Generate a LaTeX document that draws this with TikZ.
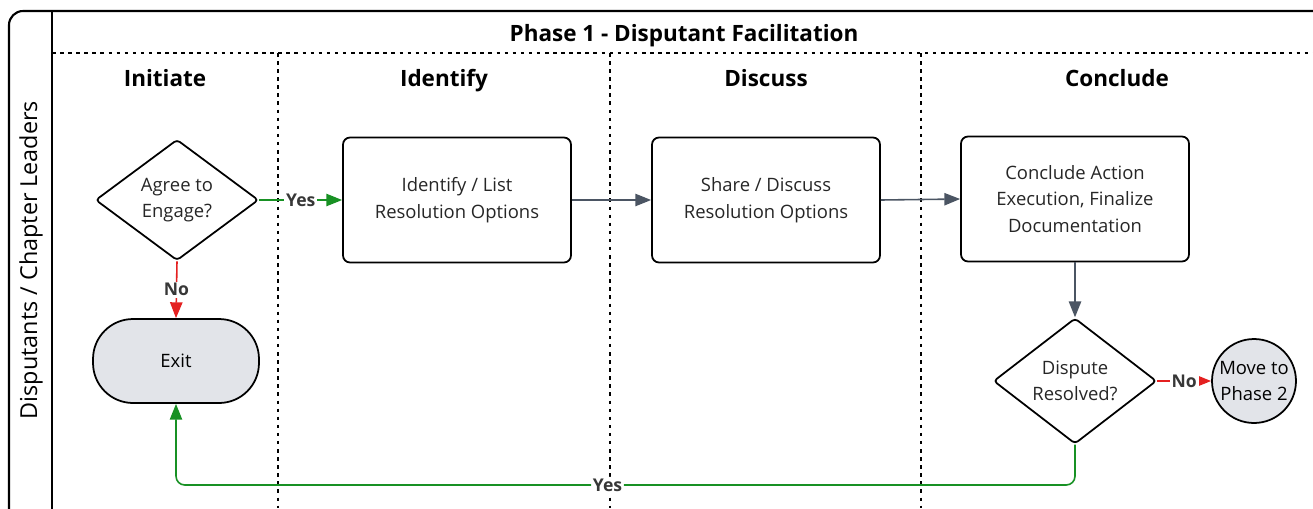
\documentclass[tikz,border=0pt]{standalone}
\usepackage{fontspec}
\setmainfont{Open Sans}
\usetikzlibrary{shapes.geometric,arrows.meta}
\definecolor{yesgreen}{RGB}{24,145,36}
\definecolor{nored}{RGB}{228,32,32}
\definecolor{flowgray}{RGB}{75,85,99}
\definecolor{termfill}{RGB}{226,228,233}
\definecolor{tagtext}{RGB}{55,55,55}
\tikzset{
  frame/.style={line width=1.2pt},
  divider/.style={line width=1pt,dash pattern=on 2pt off 2.6pt},
  head/.style={anchor=base,font=\bfseries\fontsize{12.8}{15}\selectfont},
  stepbox/.style={draw,line width=1pt,rounded corners=4pt,minimum width=4.56cm,minimum height=2.5cm,align=center,text=black!85,font=\fontsize{10.5}{15.2}\selectfont},
  decision/.style={diamond,draw,line width=1pt,rounded corners=2pt,minimum width=3.26cm,minimum height=2.42cm,inner sep=0pt,align=center,text=black!85,font=\fontsize{10.5}{15.2}\selectfont},
  terminal/.style={draw,line width=1pt,fill=termfill,rounded corners=0.8cm,minimum width=3.32cm,minimum height=1.68cm,align=center,font=\fontsize{10.5}{15.2}\selectfont},
  phasecircle/.style={circle,draw,line width=1pt,fill=termfill,minimum size=1.68cm,inner sep=0pt,align=center,font=\fontsize{10.5}{15.2}\selectfont},
  flow/.style={line width=0.9pt,-{Triangle[length=9pt,width=7pt]}},
  tag/.style={font=\bfseries\fontsize{10}{12}\selectfont,text=tagtext,fill=white,inner sep=1pt}
}
\begin{document}
\begin{tikzpicture}[x=0.02cm,y=-0.02cm]
\clip (0,0) rectangle (1313,508);
\draw[frame,rounded corners=8pt] (9,540) -- (9,11) -- (1340,11);
\draw[frame] (52,11) -- (52,540);
\draw[divider] (52,53) -- (1313,53);
\draw[divider] (278,53) -- (278,508);
\draw[divider] (610,53) -- (610,508);
\draw[divider] (921,53) -- (921,508);
\node[head] (title) at (684,41) {Phase 1 - Disputant Facilitation};
\node[head] (hinit) at (165,86) {Initiate};
\node[head] (hident) at (444,86) {Identify};
\node[head] (hdisc) at (766,86) {Discuss};
\node[head] (hconc) at (1117,86) {Conclude};
\node[rotate=90,font=\fontsize{13.3}{15}\selectfont] (lane) at (31,260) {Disputants / Chapter Leaders};
\node[decision] (agree) at (177,200) {Agree to\\Engage?};
\node[stepbox] (identify) at (457,200) {Identify / List\\Resolution Options};
\node[stepbox] (share) at (766,200) {Share / Discuss\\Resolution Options};
\node[stepbox] (conclude) at (1075,199) {Conclude Action\\Execution, Finalize\\Documentation};
\node[terminal] (exit) at (176,361) {Exit};
\node[decision] (resolved) at (1075,381) {Dispute\\Resolved?};
\node[phasecircle] (phase2) at (1254,381) {Move to\\Phase 2};
\coordinate (loopy) at (0,485);
\draw[flow,yesgreen] (agree.east) -- node[tag]{Yes} (identify.west);
\draw[flow,nored] (agree.south) -- node[tag]{No} (exit.north);
\draw[flow,flowgray] (identify.east) -- (share.west);
\draw[flow,flowgray] (share.east) -- (conclude.west);
\draw[flow,flowgray] (conclude.south) -- (resolved.north);
\draw[flow,nored] (resolved.east) -- node[tag]{No} (phase2.west);
\draw[flow,yesgreen,rounded corners=5pt] (resolved.south) |- (exit.south |- loopy) node[tag,pos=0.76]{Yes} -- (exit.south);
\end{tikzpicture}
\end{document}
